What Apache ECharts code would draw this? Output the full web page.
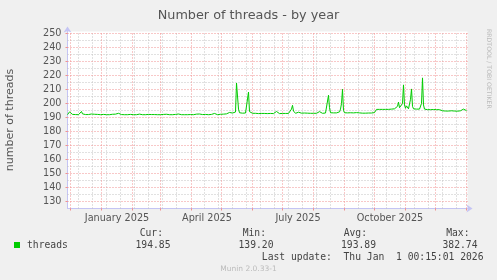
<!DOCTYPE html>
<html><head><meta charset="utf-8">
<script src="https://cdn.jsdelivr.net/npm/echarts@6/dist/echarts.min.js"></script>
<style>html,body{margin:0;padding:0;background:#f0f0f0}#c{width:497px;height:280px}</style>
</head><body><div id="c"></div><script>
const startDate = '2024-11-28';
const threads = [
192.0,193.2,194.0,194.3,193.0,192.2,192.0,192.3,192.1,192.0,
192.2,192.0,192.4,193.2,194.3,192.6,192.2,192.0,192.1,192.3,
192.0,192.1,192.0,192.2,192.5,192.1,192.0,192.3,192.0,192.7,
192.2,192.0,192.1,192.0,192.3,192.0,192.2,192.8,192.1,192.0,
192.0,192.2,192.0,192.1,192.0,192.3,192.0,192.1,192.4,192.0,
192.2,193.0,192.4,192.0,192.1,192.0,192.2,192.0,192.0,192.1,
192.0,192.3,192.9,192.2,192.0,192.1,192.0,192.0,192.2,192.0,
192.3,193.2,192.4,192.0,192.1,192.0,192.2,192.0,192.0,192.1,
192.0,192.2,192.0,192.6,192.1,192.0,192.0,192.1,192.0,192.2,
192.0,192.0,192.1,192.0,191.8,192.0,192.2,192.4,193.3,192.3,
192.0,192.1,192.0,192.0,192.2,192.0,192.3,192.7,192.2,192.0,
192.1,192.5,192.1,192.0,192.0,192.2,192.0,192.0,192.1,192.0,
192.0,192.2,192.0,192.1,192.0,192.3,192.0,192.1,192.2,192.4,
192.8,193.1,192.5,192.2,192.0,192.1,192.3,192.0,192.2,192.8,
192.3,192.0,192.1,192.0,192.2,192.0,192.4,192.9,192.3,192.1,
192.0,192.2,192.0,192.3,192.0,192.0,192.4,193.0,192.5,192.6,
193.0,193.2,193.6,194.2,193.6,193.2,193.5,194.6,193.9,214.6,
214.2,196.0,193.4,193.0,193.0,193.1,193.0,193.0,193.2,193.0,
194.0,208.2,194.2,193.0,192.9,193.0,192.8,192.9,193.0,192.8,
192.9,192.8,193.0,192.8,192.9,192.8,193.4,192.9,192.8,193.0,
192.8,192.9,193.5,192.9,192.8,193.0,192.8,192.9,193.3,194.3,
193.2,192.9,192.8,193.0,192.8,192.9,192.8,193.0,192.9,192.8,
193.0,192.9,193.3,194.0,196.0,198.7,194.6,193.2,193.0,193.0,
193.2,193.8,193.2,193.0,193.1,193.0,193.0,193.2,193.0,193.0,
193.1,193.0,193.3,193.0,193.0,193.1,193.0,193.2,193.0,193.0,
193.3,193.8,194.2,193.5,193.2,193.0,193.1,193.0,193.2,193.0,
194.0,205.9,197.0,193.4,193.2,193.1,193.3,193.2,193.1,193.3,
193.2,193.5,194.0,196.0,200.0,210.2,195.0,193.4,193.2,193.1,
193.3,193.2,193.1,193.4,193.2,193.0,193.3,193.2,193.1,193.5,
193.2,193.1,193.3,193.2,193.4,193.1,193.2,193.3,193.1,193.2,
193.4,193.2,193.1,193.3,193.2,193.1,193.3,193.5,193.4,195.8,
196.0,195.9,195.8,196.0,195.7,195.8,195.9,195.7,195.8,195.6,
195.7,195.8,195.6,195.7,196.0,195.8,196.4,196.2,196.8,197.5,
198.0,201.0,197.0,196.3,196.5,200.0,213.3,199.0,196.6,198.3,
197.0,196.2,196.0,203.0,210.4,198.0,196.2,196.5,197.2,196.0,
195.8,195.9,196.0,196.2,200.0,218.3,199.0,196.0,195.8,195.7,
195.6,195.8,195.7,195.6,195.8,195.9,195.7,195.6,195.7,195.6,
195.5,195.7,195.6,195.4,195.0,194.8,194.7,194.8,194.6,194.7,
194.8,194.6,194.7,194.6,194.8,194.7,194.5,194.6,194.7,194.6,
194.5,194.7,194.6,194.8,194.7,195.0,196.0,197.4,196.0,194.9
];
const yTicks = [130,140,150,160,170,180,190,200,210,220,230,240,250];
const yMinorTicks = [135,145,155,165,175,185,195,205,215,225,235,245];
const monthStarts = ['2024-12-01','2025-01-01','2025-02-01','2025-03-01','2025-04-01','2025-05-01','2025-06-01','2025-07-01','2025-08-01','2025-09-01','2025-10-01','2025-11-01','2025-12-01','2026-01-01'];
const minorDates = ['2024-12-09','2024-12-23','2025-01-06','2025-01-20','2025-02-03','2025-02-17','2025-03-03','2025-03-17','2025-04-14','2025-04-28','2025-05-12','2025-05-26','2025-06-09','2025-06-23','2025-07-07','2025-07-21','2025-08-04','2025-08-18','2025-09-15','2025-09-29','2025-10-13','2025-10-27','2025-11-10','2025-11-24','2025-12-08','2025-12-22'];
const xLabelDates = ['2025-01-16T12:00:00Z','2025-04-16T12:00:00Z','2025-07-16T12:00:00Z','2025-10-16T12:00:00Z'];
const xLabels = ['January 2025','April 2025','July 2025','October 2025'];
const legendHeads = ['Cur:','Min:','Avg:','Max:'];
const legendValues = ['194.85','139.20','193.89','382.74'];
const seriesName = 'threads';
const lastUpdate = 'Last update:  Thu Jan  1 00:15:01 2026';

const t0 = Date.parse(startDate + 'T00:00:00Z');
const dayIdx = s => (Date.parse(s.length === 10 ? s + 'T00:00:00Z' : s) - t0) / 86400000;
const monthDays = monthStarts.map(dayIdx);
const minorDays = minorDates.map(dayIdx);
const labelDays = xLabelDates.map(dayIdx);

const gray = '#c2c2c2';
const red = '#f09090';
const mono = 'DejaVu Sans Mono';
const txtColor = '#444';
const fs = 9.7;

const chart = echarts.init(document.getElementById('c'), null, {renderer: 'canvas'});
const graphic = [];
graphic.push({type: 'rect', shape: {x: 14, y: 242, width: 6, height: 6}, style: {fill: '#00cc00'}});
graphic.push({type: 'text', x: 27, y: 245.5, style: {text: seriesName, font: fs + 'px ' + mono, fill: txtColor, verticalAlign: 'middle'}});
const headRight = [163, 266, 367, 469.5];
const valRight = [170.5, 273.5, 376, 477.5];
legendHeads.forEach((h, i) => {
  graphic.push({type: 'text', x: headRight[i], y: 233.5, style: {text: h, font: fs + 'px ' + mono, fill: txtColor, align: 'right', verticalAlign: 'middle'}});
  graphic.push({type: 'text', x: valRight[i], y: 245.5, style: {text: legendValues[i], font: fs + 'px ' + mono, fill: txtColor, align: 'right', verticalAlign: 'middle'}});
});
graphic.push({type: 'text', x: 483.5, y: 257.5, style: {text: lastUpdate, font: fs + 'px ' + mono, fill: txtColor, align: 'right', verticalAlign: 'middle'}});
graphic.push({type: 'text', x: 248.5, y: 269.5, style: {text: 'Munin 2.0.33-1', font: '7.5px DejaVu Sans', fill: '#bbbbbb', align: 'center', verticalAlign: 'middle'}});
graphic.push({type: 'text', x: 488.5, y: 29, rotation: -Math.PI / 2, style: {text: 'RRDTOOL / TOBI OETIKER', font: '6.2px DejaVu Sans', fill: '#bbbbbb', align: 'left', verticalAlign: 'middle'}});
graphic.push({type: 'text', x: 10, y: 120, rotation: Math.PI / 2, style: {text: 'number of threads', font: '11px DejaVu Sans', fill: '#555', align: 'center', verticalAlign: 'middle'}});

const option = {
  backgroundColor: '#f0f0f0',
  animation: false,
  title: {text: 'Number of threads - by year', left: 'center', top: 4,
    textStyle: {fontFamily: 'DejaVu Sans', fontSize: 12.8, fontWeight: 'normal', color: '#555'}},
  grid: {left: 67.5, right: 29.5, top: 31.5, bottom: 71.5, containLabel: false, backgroundColor: '#ffffff', show: true, borderWidth: 0},
  xAxis: {
    type: 'value', min: 0, max: 400,
    splitLine: {show: false},
    axisLine: {show: true, lineStyle: {color: '#c4c4f4', width: 1}, symbol: ['none', 'arrow'], symbolSize: [6, 6], symbolOffset: [0, 5]},
    axisTick: {show: true, customValues: monthDays, length: 2, lineStyle: {color: red}},
    axisLabel: {show: true, customValues: labelDays, margin: 5, fontFamily: 'DejaVu Sans', fontSize: fs, color: '#555',
      formatter: v => { const i = labelDays.findIndex(d => Math.abs(d - v) < 0.01); return i >= 0 ? xLabels[i] : ''; }}
  },
  yAxis: {
    type: 'value', min: 125, max: 125 + 177 / 1.4,
    splitLine: {show: false},
    axisLine: {show: true, lineStyle: {color: '#c4c4f4', width: 1}, symbol: ['none', 'arrow'], symbolSize: [6, 6], symbolOffset: [0, 5]},
    axisTick: {show: true, customValues: yTicks, length: 2, lineStyle: {color: red}},
    axisLabel: {show: true, customValues: yTicks, margin: 6, fontFamily: 'DejaVu Sans', fontSize: fs, color: '#555'}
  },
  graphic: graphic,
  series: [
    {type: 'line', data: [], silent: true, symbol: 'none', z: 1,
      markLine: {silent: true, symbol: 'none', label: {show: false}, animation: false,
        lineStyle: {color: gray, type: [1, 2], width: 1},
        emphasis: {disabled: true},
        data: minorDays.map(d => ({xAxis: d})).concat(yMinorTicks.map(v => ({yAxis: v})))}},
    {type: 'line', data: [], silent: true, symbol: 'none', z: 2,
      markLine: {silent: true, symbol: 'none', label: {show: false}, animation: false,
        lineStyle: {color: red, type: [1, 2], width: 1},
        emphasis: {disabled: true},
        data: monthDays.map(d => ({xAxis: d})).concat(yTicks.map(v => ({yAxis: v})))}},
    {type: 'line', name: seriesName, data: threads.map((v, i) => [i, v]), symbol: 'none', z: 5,
      lineStyle: {color: '#00cc00', width: 1}, itemStyle: {color: '#00cc00'}, silent: true}
  ]
};
chart.setOption(option);
</script></body></html>
